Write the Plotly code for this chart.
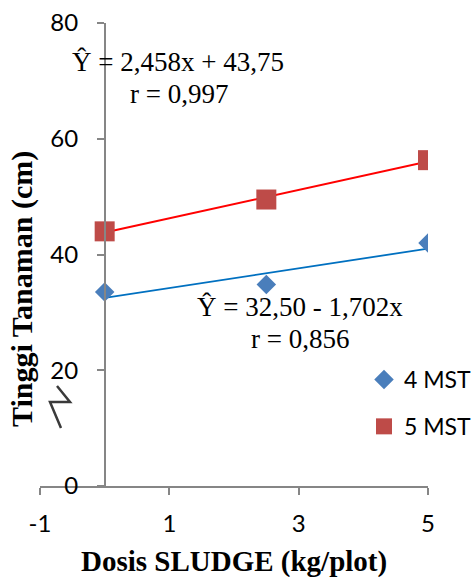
import numpy as np
import plotly.graph_objects as go

# ---- data ----
dose = [0, 2.5, 5]
mst4 = [33.5, 34.8, 42.0]
mst5 = [44.0, 49.5, 56.3]
series_names = ["4 MST", "5 MST"]
x_ticks = [-1, 1, 3, 5]
x_ticktext = ["-1", "1", "3", "5"]
y_ticks = [0, 20, 40, 60, 80]
eq5 = ["Ŷ = 2,458x + 43,75", "r = 0,997"]
eq4 = ["Ŷ = 32,50 - 1,702x", "r = 0,856"]

W, H = 473, 577
L, R, T, B = 40, 45, 23, 91
pw, ph = W - L - R, H - T - B


def px(x):
    return (x - L) / pw


def py(y):
    return (H - B - y) / ph


fig = go.Figure()

# trend lines (least squares)
xs = np.array(dose)
for vals, col, wd in [(mst4, "#0070C0", 1.8), (mst5, "#FF0000", 2)]:
    m, c = np.polyfit(xs, np.array(vals), 1)
    xl = np.array([xs.min(), xs.max()])
    fig.add_trace(go.Scatter(x=xl, y=m * xl + c, mode="lines",
                             line=dict(color=col, width=wd),
                             showlegend=False, hoverinfo="skip"))

fig.add_trace(go.Scatter(x=dose, y=mst4, mode="markers", name=series_names[0],
                         legendgroup="a",
                         marker=dict(symbol="diamond", size=15, color="#4A7EBB")))
fig.add_trace(go.Scatter(x=dose, y=mst5, mode="markers", name=series_names[1],
                         legendgroup="b",
                         marker=dict(symbol="square", size=20, color="#BE4B48")))

axis_col = "#868686"
serif = "Liberation Serif"
ann = []
def eq(x, y, t):
    ann.append(dict(x=px(x), y=py(y), xref="paper", yref="paper", text=t,
                    showarrow=False, xanchor="center", yanchor="middle",
                    font=dict(family=serif, size=27, color="black")))

eq(178, 62, eq5[0])
eq(179, 94, eq5[1])
eq(300, 307, eq4[0])
eq(300, 339, eq4[1])
ann.append(dict(x=px(234), y=py(561), xref="paper", yref="paper",
                xanchor="center", yanchor="middle",
                text="<b>Dosis SLUDGE (kg/plot)</b>", showarrow=False,
                font=dict(family=serif, size=29, color="black")))
ann.append(dict(x=px(22), y=py(289), xref="paper", yref="paper", textangle=-90,
                xanchor="center", yanchor="middle",
                text="<b>Tinggi Tanaman (cm)</b>", showarrow=False,
                font=dict(family=serif, size=30, color="black")))

pts = [(57, 386), (70, 402), (50, 402), (61, 428)]
path = "M " + " L ".join(f"{px(a):.4f},{py(b):.4f}" for a, b in pts)

fig.update_layout(
    width=W, height=H,
    margin=dict(l=L, r=R, t=T, b=B, autoexpand=False),
    paper_bgcolor="white", plot_bgcolor="white",
    font=dict(family="Lato", size=24, color="black"),
    xaxis=dict(range=[-1, 5], tickvals=x_ticks, ticktext=x_ticktext,
               showgrid=False, zeroline=False, showline=True,
               linecolor=axis_col, linewidth=1.5, ticks="outside",
               ticklen=7, tickcolor=axis_col, tickwidth=1.5,
               ticklabelstandoff=8, automargin=False),
    yaxis=dict(range=[0, 80], tickvals=y_ticks, anchor="free", position=1 / 6,
               showgrid=False, zeroline=False, showline=True,
               linecolor=axis_col, linewidth=1.5, ticks="outside",
               ticklen=7, tickcolor=axis_col, tickwidth=1.5,
               ticklabelstandoff=14, automargin=False),
    legend=dict(x=px(364), y=py(358), xanchor="left", yanchor="top",
                font=dict(family="Lato", size=23), tracegroupgap=14,
                bgcolor="rgba(0,0,0,0)"),
    annotations=ann,
    shapes=[dict(type="path", path=path, xref="paper", yref="paper",
                 line=dict(color="#3a3a3a", width=2.5))],
)

fig.write_html("out.html")
